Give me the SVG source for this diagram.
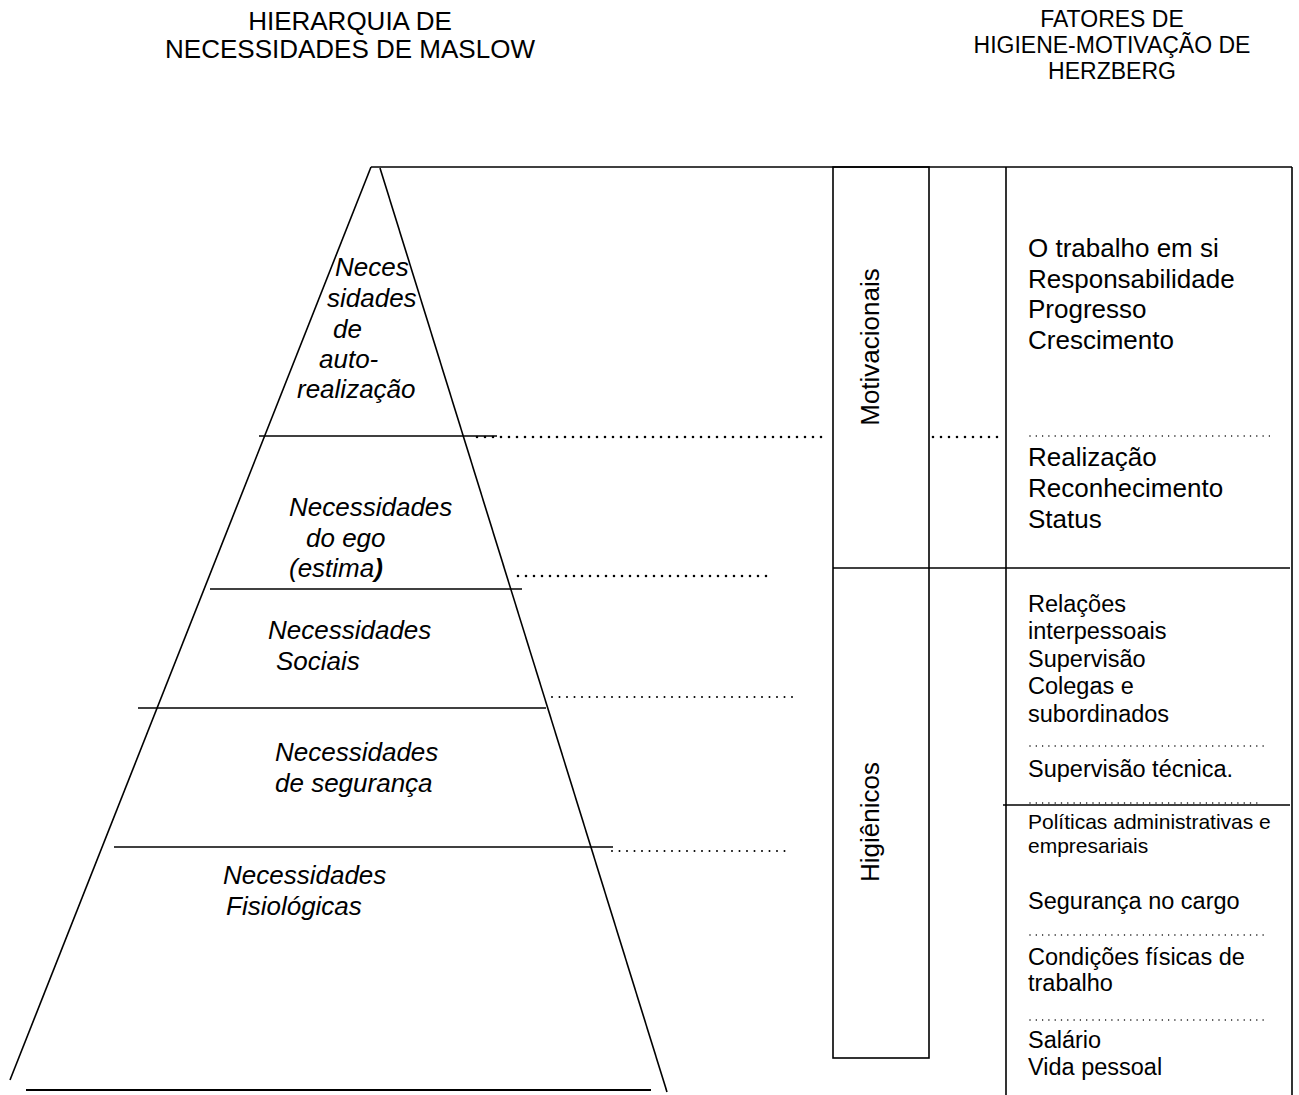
<svg xmlns="http://www.w3.org/2000/svg" width="1299" height="1095" viewBox="0 0 1299 1095">
<style>
.t{font-family:"Liberation Sans",Arial,sans-serif;fill:#000}
.ti{font-size:26px}
.th{font-size:23px}
.it{font-family:"Liberation Sans",Arial,sans-serif;font-style:italic;font-size:26px;fill:#000}
.m{font-size:26px}
.h{font-size:23.5px}
.s{font-size:21px}
.ln{stroke:#000;stroke-width:1.6;fill:none}
.bd{stroke:#000;stroke-width:2.6;stroke-linecap:round;stroke-dasharray:0 8;fill:none}
.sd{stroke:#000;stroke-width:2;stroke-linecap:round;stroke-dasharray:0 7.5;fill:none}
.td{stroke:#000;stroke-width:1.5;stroke-linecap:round;stroke-dasharray:0 6.3;fill:none}
</style>
<rect width="1299" height="1095" fill="#fff"/>
<g id="titles">
<text class="t ti" x="350" y="30" text-anchor="middle">HIERARQUIA DE</text>
<text class="t ti" x="350" y="58" text-anchor="middle">NECESSIDADES DE MASLOW</text>
<text class="t th" x="1112" y="27" text-anchor="middle">FATORES DE</text>
<text class="t th" x="1112" y="53" text-anchor="middle">HIGIENE-MOTIVAÇÃO DE</text>
<text class="t th" x="1112" y="79" text-anchor="middle">HERZBERG</text>
</g>
<g id="pyramid">
<line class="ln" x1="371" y1="167" x2="10" y2="1080"/>
<line class="ln" x1="380" y1="168" x2="667" y2="1092"/>
<line class="ln" x1="259" y1="436" x2="497" y2="436"/>
<line class="ln" x1="210" y1="589" x2="522" y2="589"/>
<line class="ln" x1="138" y1="708" x2="546" y2="708"/>
<line class="ln" x1="114" y1="847" x2="613" y2="847"/>
<line class="ln" x1="26" y1="1090" x2="651" y2="1090" style="stroke-width:2"/>
</g>
<g id="level-autorealizacao">
<text class="it" x="335" y="276">Neces</text>
<text class="it" x="327" y="307">sidades</text>
<text class="it" x="333" y="338">de</text>
<text class="it" x="319" y="368">auto-</text>
<text class="it" x="297" y="398">realização</text>
</g>
<g id="level-ego">
<text class="it" x="289" y="516">Necessidades</text>
<text class="it" x="306" y="547">do ego</text>
<text class="it" x="289" y="577">(estima<tspan font-weight="bold">)</tspan></text>
</g>
<g id="level-sociais">
<text class="it" x="268" y="639">Necessidades</text>
<text class="it" x="276" y="670">Sociais</text>
</g>
<g id="level-seguranca">
<text class="it" x="275" y="761">Necessidades</text>
<text class="it" x="275" y="792">de segurança</text>
</g>
<g id="level-fisiologicas">
<text class="it" x="223" y="884">Necessidades</text>
<text class="it" x="226" y="915">Fisiológicas</text>
</g>
<g id="herzberg-frame">
<line class="ln" x1="371" y1="167" x2="1292" y2="167"/>
<rect class="ln" x="833" y="167" width="96" height="891"/>
<line class="ln" x1="1006" y1="167" x2="1006" y2="1095"/>
<line class="ln" x1="1292" y1="167" x2="1292" y2="1095"/>
<line class="ln" x1="833" y1="568" x2="1290" y2="568"/>
<line class="ln" x1="1003" y1="805" x2="1290" y2="805"/>
</g>
<g id="motivacionais">
<text class="t m" transform="translate(879,347) rotate(-90)" text-anchor="middle">Motivacionais</text>
<text class="t m" x="1028" y="257">O trabalho em si</text>
<text class="t m" x="1028" y="288">Responsabilidade</text>
<text class="t m" x="1028" y="318">Progresso</text>
<text class="t m" x="1028" y="349">Crescimento</text>
<text class="t m" x="1028" y="466">Realização</text>
<text class="t m" x="1028" y="497">Reconhecimento</text>
<text class="t m" x="1028" y="528">Status</text>
</g>
<g id="higienicos">
<text class="t m" transform="translate(879,822) rotate(-90)" text-anchor="middle">Higiênicos</text>
<text class="t h" x="1028" y="612">Relações</text>
<text class="t h" x="1028" y="639">interpessoais</text>
<text class="t h" x="1028" y="667">Supervisão</text>
<text class="t h" x="1028" y="694">Colegas e</text>
<text class="t h" x="1028" y="722">subordinados</text>
<text class="t h" x="1028" y="777">Supervisão técnica.</text>
<text class="t s" x="1028" y="829">Políticas administrativas e</text>
<text class="t s" x="1028" y="853">empresariais</text>
<text class="t h" x="1028" y="909">Segurança no cargo</text>
<text class="t h" x="1028" y="965">Condições físicas de</text>
<text class="t h" x="1028" y="991">trabalho</text>
<text class="t h" x="1028" y="1048">Salário</text>
<text class="t h" x="1028" y="1075">Vida pessoal</text>
</g>
<g id="connectors">
<line class="bd" x1="477" y1="437" x2="829" y2="437"/>
<line class="bd" x1="933" y1="437" x2="1003" y2="437"/>
<line class="bd" x1="518" y1="576" x2="773" y2="576"/>
<line class="sd" x1="552" y1="697" x2="799" y2="697"/>
<line class="sd" x1="612" y1="851" x2="786" y2="851"/>
<line class="td" x1="1030" y1="436" x2="1271" y2="436"/>
<line class="td" x1="1030" y1="746" x2="1269" y2="746"/>
<line class="td" x1="1030" y1="803" x2="1258" y2="803"/>
<line class="td" x1="1030" y1="935" x2="1265" y2="935"/>
<line class="td" x1="1030" y1="1020" x2="1269" y2="1020"/>
</g>
</svg>
